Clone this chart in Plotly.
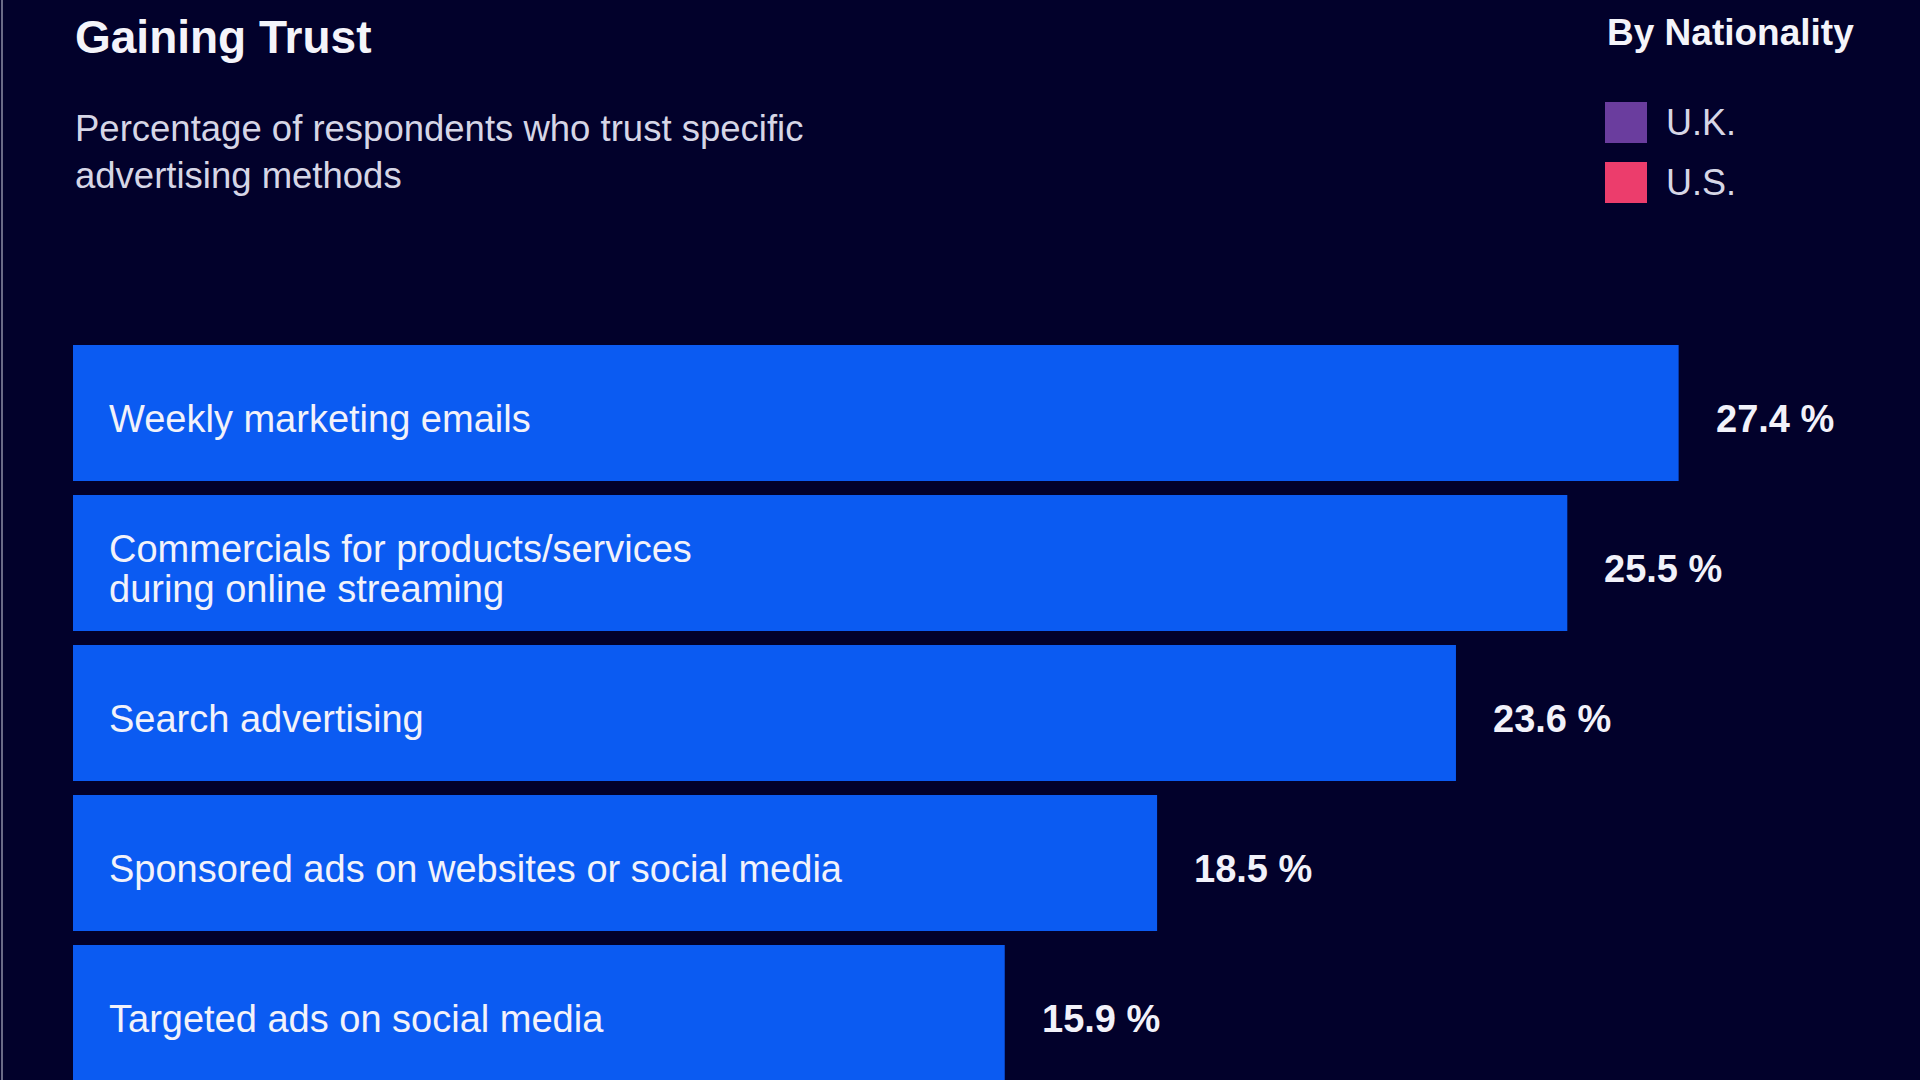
import plotly.graph_objects as go

# data
methods = [
    "Weekly marketing emails",
    "Commercials for products/services<br>during online streaming",
    "Search advertising",
    "Sponsored ads on websites or social media",
    "Targeted ads on social media",
]
trust_pct = [27.4, 25.5, 23.6, 18.5, 15.9]
nationalities = ["U.K.", "U.S."]
nation_colors = ["#6a3d9e", "#ec3d6c"]

BG = "#02012b"
BAR = "#0b5bf2"
FONT = "Liberation Sans, Arial"
W, H = 1920, 1080
ML, MT = 73, 338
PW, PH = W - ML, H - MT


def px(x):
    return (x - ML) / PW


def py(y):
    return (H - y) / PH


fig = go.Figure()
fig.add_trace(go.Bar(
    x=trust_pct,
    y=methods,
    orientation="h",
    marker=dict(color=BAR, line=dict(width=0)),
    hoverinfo="skip",
    showlegend=False,
))

annotations = []
# labels inside bars, one annotation per line so the lines sit close together
for m in methods:
    lines = m.split("<br>")
    n = len(lines)
    for k, line in enumerate(lines):
        annotations.append(dict(
            x=0, y=m, xref="x", yref="y", text=line, showarrow=False,
            xanchor="left", yanchor="middle", xshift=34,
            yshift=((n - 1) / 2.0 - k) * 40 - 6,
            font=dict(family=FONT, size=38, color="#f2f2fa"),
        ))
# value labels
for m, v in zip(methods, trust_pct):
    annotations.append(dict(
        x=v, y=m, xref="x", yref="y", text="<b>%.1f %%</b>" % v, showarrow=False,
        xanchor="left", yanchor="middle", xshift=35, yshift=-6,
        font=dict(family=FONT, size=38, color="#f2f2fa"),
    ))

annotations.append(dict(
    x=px(73), y=py(37), xref="paper", yref="paper", text="<b>Gaining Trust</b>",
    showarrow=False, xanchor="left", yanchor="middle",
    font=dict(family=FONT, size=46, color="#f4f4fa"),
))
annotations.append(dict(
    x=px(73), y=py(152), xref="paper", yref="paper",
    text="Percentage of respondents who trust specific<br>advertising methods",
    showarrow=False, xanchor="left", yanchor="middle", align="left",
    font=dict(family=FONT, size=36.5, color="#d6d6e6"),
))
annotations.append(dict(
    x=px(1605), y=py(32), xref="paper", yref="paper", text="<b>By Nationality</b>",
    showarrow=False, xanchor="left", yanchor="middle",
    font=dict(family=FONT, size=37, color="#f4f4fa"),
))

shapes = []
for i, (n, c) in enumerate(zip(nationalities, nation_colors)):
    top = 102 + i * 60
    shapes.append(dict(
        type="rect", xref="paper", yref="paper",
        x0=px(1605), x1=px(1647), y0=py(top), y1=py(top + 41),
        fillcolor=c, line=dict(width=0),
    ))
    annotations.append(dict(
        x=px(1664), y=py(top + 21), xref="paper", yref="paper", text=n,
        showarrow=False, xanchor="left", yanchor="middle",
        font=dict(family=FONT, size=36, color="#d6d6e6"),
    ))

# thin light edge at the far left
shapes.append(dict(
    type="line", xref="paper", yref="paper",
    x0=px(2), x1=px(2), y0=py(0), y1=py(H),
    line=dict(color="#6a6a86", width=2),
))

fig.update_layout(
    width=W, height=H,
    margin=dict(l=ML, r=0, t=MT, b=0),
    paper_bgcolor=BG, plot_bgcolor=BG,
    bargap=0.093,
    xaxis=dict(range=[0, PW / 58.6], visible=False, fixedrange=True),
    yaxis=dict(range=[-0.5 + PH / 150.0, -0.5], visible=False, fixedrange=True),
    annotations=annotations,
    shapes=shapes,
)

fig.write_html(
    "out.html",
    config={"displayModeBar": False},
    post_script="document.body.style.margin='0';document.body.style.padding='0';"
                "document.body.style.overflow='hidden';document.body.style.background='%s';" % BG,
)
